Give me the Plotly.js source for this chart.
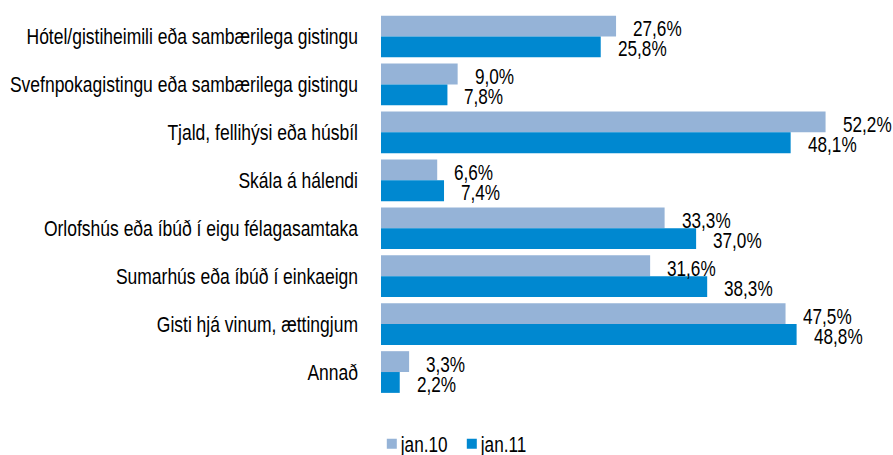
<!DOCTYPE html>
<html><head><meta charset="utf-8">
<script src="https://cdn.plot.ly/plotly-3.0.1.min.js"></script>
<style>body{margin:0;background:#fff}#c{width:893px;height:455px}</style>
</head><body><div id="c"></div>
<script>
const categories = [
  "Hótel/gistiheimili eða sambærilega gistingu",
  "Svefnpokagistingu eða sambærilega gistingu",
  "Tjald, fellihýsi eða húsbíl",
  "Skála á hálendi",
  "Orlofshús eða íbúð í eigu félagasamtaka",
  "Sumarhús eða íbúð í einkaeign",
  "Gisti hjá vinum, ættingjum",
  "Annað"
];
const jan10 = [27.6, 9.0, 52.2, 6.6, 33.3, 31.6, 47.5, 3.3];
const jan11 = [25.8, 7.8, 48.1, 7.4, 37.0, 38.3, 48.8, 2.2];
const seriesNames = ["jan.10", "jan.11"];
const seriesColors = ["#95B3D7", "#0088D0"];

const FONT = "Liberation Sans, Arial, sans-serif";
const FS = 22;
const fmt = v => v.toFixed(1).replace('.', ',') + '%';

const annotations = [];
categories.forEach((c, i) => {
  annotations.push({x: jan10[i], y: c, text: fmt(jan10[i]), showarrow: false, xanchor: 'left', yanchor: 'middle', align: 'left', width: 50, xshift: 15, yshift: 8, font: {family: FONT, size: FS, color: '#000'}});
  annotations.push({x: jan11[i], y: c, text: fmt(jan11[i]), showarrow: false, xanchor: 'left', yanchor: 'middle', align: 'left', width: 50, xshift: 15, yshift: -12, font: {family: FONT, size: FS, color: '#000'}});
});

const data = seriesNames.map((n, k) => ({
  type: 'bar', orientation: 'h', name: n, y: categories, x: k === 0 ? jan10 : jan11,
  marker: {color: seriesColors[k]}, hoverinfo: 'none'
}));

const layout = {
  width: 893, height: 455,
  margin: {l: 381, r: 1, t: 10, b: 59, autoexpand: false},
  paper_bgcolor: '#fff', plot_bgcolor: '#fff',
  barmode: 'group', bargap: 0.13, bargroupgap: 0,
  font: {family: FONT, size: FS, color: '#000'},
  xaxis: {range: [0, 60], showgrid: false, zeroline: false, showticklabels: false, ticks: '', showline: false, fixedrange: true},
  yaxis: {autorange: 'reversed', type: 'category', showgrid: false, zeroline: false, ticks: '', showline: false, ticklabelstandoff: 22, tickfont: {family: FONT, size: FS, color: '#000'}},
  showlegend: true,
  legend: {orientation: 'h', xref: 'paper', x: -0.018, xanchor: 'left', y: -0.124, yanchor: 'middle',
           font: {family: FONT, size: FS, color: '#000'}, itemwidth: 30, entrywidth: 35, tracegroupgap: 0},
  annotations: annotations
};

function squeeze(sel, f) {
  document.querySelectorAll(sel).forEach(t => {
    const L = t.getComputedTextLength();
    if (L > 0) {
      t.setAttribute('textLength', (L * f).toFixed(2));
      t.setAttribute('lengthAdjust', 'spacingAndGlyphs');
    }
  });
}

Plotly.newPlot('c', data, layout, {displayModeBar: false, staticPlot: true}).then(() => {
  squeeze('.yaxislayer-above text', 0.795);
  squeeze('.annotation-text', 0.78);
  squeeze('.legendtext', 0.78);
  document.querySelectorAll('.legendtext').forEach(t => t.setAttribute('x', 29));
  document.querySelectorAll('.legendpoints path').forEach(p => {
    const d = p.getAttribute('d') || '';
    if (d.indexOf('M6,6') === 0) p.setAttribute('d', 'M5,5H-5V-5H5Z');
  });
});
</script></body></html>
